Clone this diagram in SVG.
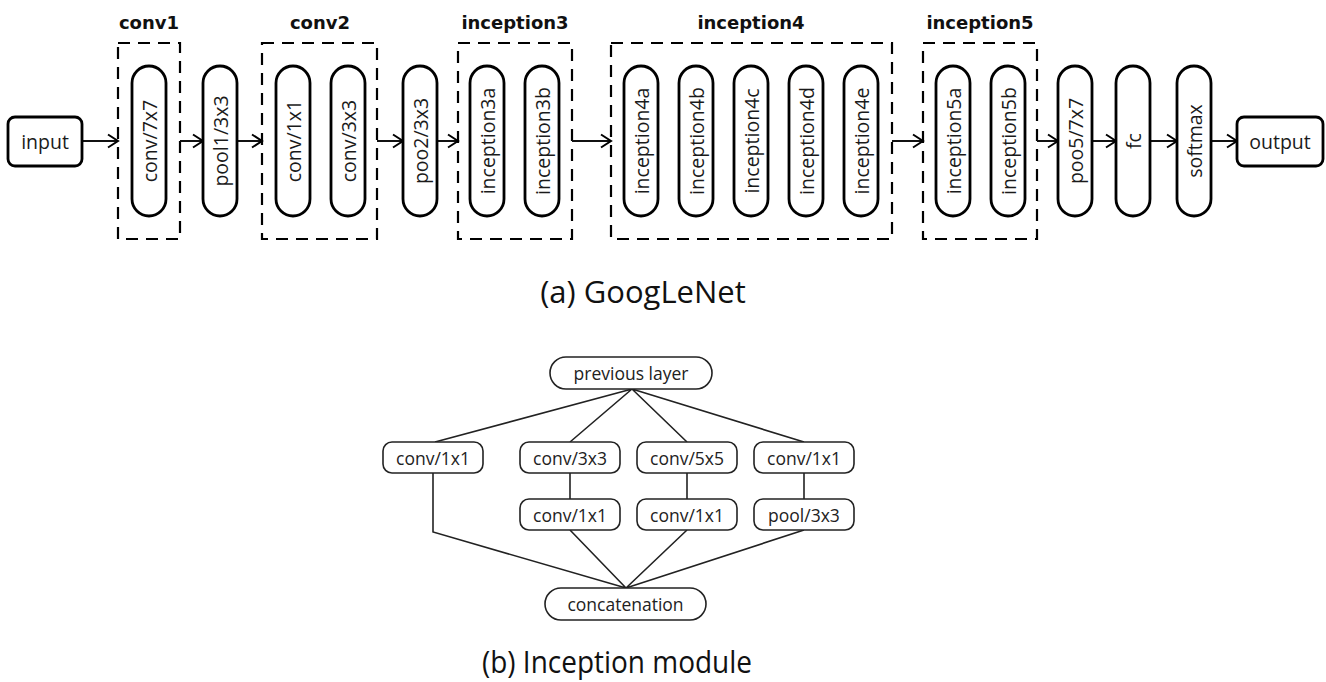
<svg xmlns="http://www.w3.org/2000/svg" width="1326" height="682" viewBox="0 0 1326 682">
<defs>
<marker id="arr" markerUnits="userSpaceOnUse" markerWidth="14" markerHeight="16" refX="11" refY="7" orient="auto" viewBox="0 0 14 14">
<path d="M1,0.5 L11,7 L1,13.5" fill="none" stroke="#000" stroke-width="2"/>
</marker>
</defs>
<style>
.bg{fill:#fff}
.pill{fill:#fff;stroke:#000;stroke-width:2.8}
.dash{fill:none;stroke:#000;stroke-width:2.2;stroke-dasharray:12 8}
.t{font-family:"Open Sans","Liberation Sans",sans-serif;font-size:19.5px;fill:#1a1a1a;text-anchor:middle;dominant-baseline:central}
.h{font-family:"DejaVu Sans","Liberation Sans",sans-serif;font-weight:bold;font-size:18px;fill:#111;text-anchor:middle}
.cap{font-family:"Open Sans","Liberation Sans",sans-serif;font-size:31px;fill:#111;text-anchor:middle}
.bx{fill:#fff;stroke:#222;stroke-width:1.6}
.bt{font-family:"Open Sans","Liberation Sans",sans-serif;font-size:17.5px;fill:#222;text-anchor:middle;dominant-baseline:central}
.ln{stroke:#111;stroke-width:2;fill:none}
.ln2{stroke:#222;stroke-width:1.6;fill:none}
</style>
<rect class="bg" x="0" y="0" width="1326" height="682"/>

<g id="groups">
<g id="conv1-group"><rect class="dash" x="118" y="43" width="62" height="196"/><text class="h" x="149" y="29">conv1</text></g>
<g id="conv2-group"><rect class="dash" x="262" y="43" width="115" height="196"/><text class="h" x="320" y="29">conv2</text></g>
<g id="inception3-group"><rect class="dash" x="458" y="43" width="114" height="196"/><text class="h" x="515" y="29">inception3</text></g>
<g id="inception4-group"><rect class="dash" x="611" y="43" width="281" height="196"/><text class="h" x="751" y="29">inception4</text></g>
<g id="inception5-group"><rect class="dash" x="923" y="43" width="114" height="196"/><text class="h" x="980" y="29">inception5</text></g>
</g>

<g id="connectors">
<line class="ln" x1="82" y1="141" x2="118" y2="141" marker-end="url(#arr)"/>
<line class="ln" x1="180" y1="141" x2="203" y2="141" marker-end="url(#arr)"/>
<line class="ln" x1="237" y1="141" x2="262" y2="141" marker-end="url(#arr)"/>
<line class="ln" x1="377" y1="141" x2="403" y2="141" marker-end="url(#arr)"/>
<line class="ln" x1="437" y1="141" x2="458" y2="141" marker-end="url(#arr)"/>
<line class="ln" x1="572" y1="141" x2="611" y2="141" marker-end="url(#arr)"/>
<line class="ln" x1="892" y1="141" x2="923" y2="141" marker-end="url(#arr)"/>
<line class="ln" x1="1037" y1="141" x2="1058" y2="141" marker-end="url(#arr)"/>
<line class="ln" x1="1092" y1="141" x2="1116" y2="141" marker-end="url(#arr)"/>
<line class="ln" x1="1149" y1="141" x2="1177" y2="141" marker-end="url(#arr)"/>
<line class="ln" x1="1210" y1="141" x2="1237" y2="141" marker-end="url(#arr)"/>
<path class="ln2" d="M632,389 L435,442 M632,389 L570,442 M632,389 L687,442 M632,389 L804,442"/>
<path class="ln2" d="M570,473 L570,499 M687,473 L687,499 M804,473 L804,499"/>
<path class="ln2" d="M433,473 L433,532 L626,588 M570,530 L626,588 M687,530 L626,588 M804,530 L626,588"/>
</g>

<g id="input"><rect class="pill" x="8" y="117" width="74" height="49" rx="7"/><text class="t" x="45" y="141">input</text></g>
<g id="conv7x7"><rect class="pill" x="132" y="66" width="34" height="150" rx="17"/><text class="t" transform="translate(149,141) rotate(-90)">conv/7x7</text></g>
<g id="pool1"><rect class="pill" x="203" y="66" width="34" height="150" rx="17"/><text class="t" transform="translate(220,141) rotate(-90)">pool1/3x3</text></g>
<g id="conv1x1"><rect class="pill" x="276" y="66" width="34" height="150" rx="17"/><text class="t" transform="translate(293,141) rotate(-90)">conv/1x1</text></g>
<g id="conv3x3"><rect class="pill" x="331" y="66" width="34" height="150" rx="17"/><text class="t" transform="translate(348,141) rotate(-90)">conv/3x3</text></g>
<g id="pool2"><rect class="pill" x="403" y="66" width="34" height="150" rx="17"/><text class="t" transform="translate(420,141) rotate(-90)">poo2/3x3</text></g>
<g id="inception3a"><rect class="pill" x="470" y="66" width="34" height="150" rx="17"/><text class="t" transform="translate(487,141) rotate(-90)">inception3a</text></g>
<g id="inception3b"><rect class="pill" x="525" y="66" width="34" height="150" rx="17"/><text class="t" transform="translate(542,141) rotate(-90)">inception3b</text></g>
<g id="inception4a"><rect class="pill" x="624" y="66" width="34" height="150" rx="17"/><text class="t" transform="translate(641,141) rotate(-90)">inception4a</text></g>
<g id="inception4b"><rect class="pill" x="679" y="66" width="34" height="150" rx="17"/><text class="t" transform="translate(696,141) rotate(-90)">inception4b</text></g>
<g id="inception4c"><rect class="pill" x="734" y="66" width="34" height="150" rx="17"/><text class="t" transform="translate(751,141) rotate(-90)">inception4c</text></g>
<g id="inception4d"><rect class="pill" x="789" y="66" width="34" height="150" rx="17"/><text class="t" transform="translate(806,141) rotate(-90)">inception4d</text></g>
<g id="inception4e"><rect class="pill" x="844" y="66" width="34" height="150" rx="17"/><text class="t" transform="translate(861,141) rotate(-90)">inception4e</text></g>
<g id="inception5a"><rect class="pill" x="936" y="66" width="34" height="150" rx="17"/><text class="t" transform="translate(953,141) rotate(-90)">inception5a</text></g>
<g id="inception5b"><rect class="pill" x="991" y="66" width="34" height="150" rx="17"/><text class="t" transform="translate(1008,141) rotate(-90)">inception5b</text></g>
<g id="pool5"><rect class="pill" x="1058" y="66" width="34" height="150" rx="17"/><text class="t" transform="translate(1075,141) rotate(-90)">poo5/7x7</text></g>
<g id="fc"><rect class="pill" x="1116" y="66" width="34" height="150" rx="17"/><text class="t" transform="translate(1133,141) rotate(-90)">fc</text></g>
<g id="softmax"><rect class="pill" x="1177" y="66" width="34" height="150" rx="17"/><text class="t" transform="translate(1194,141) rotate(-90)">softmax</text></g>
<g id="output"><rect class="pill" x="1237" y="117" width="86" height="49" rx="7"/><text class="t" x="1280" y="141">output</text></g>

<text class="cap" x="643" y="303">(a) GoogLeNet</text>

<g id="previous-layer"><rect class="bx" x="550" y="357" width="162" height="32" rx="16"/><text class="bt" x="631" y="373">previous layer</text></g>
<g id="b-conv1x1-a"><rect class="bx" x="383" y="442" width="100" height="31" rx="9"/><text class="bt" x="433" y="457.5">conv/1x1</text></g>
<g id="b-conv3x3"><rect class="bx" x="520" y="442" width="100" height="31" rx="9"/><text class="bt" x="570" y="457.5">conv/3x3</text></g>
<g id="b-conv5x5"><rect class="bx" x="637" y="442" width="100" height="31" rx="9"/><text class="bt" x="687" y="457.5">conv/5x5</text></g>
<g id="b-conv1x1-d"><rect class="bx" x="754" y="442" width="100" height="31" rx="9"/><text class="bt" x="804" y="457.5">conv/1x1</text></g>
<g id="b-conv1x1-b"><rect class="bx" x="520" y="499" width="100" height="31" rx="9"/><text class="bt" x="570" y="514.5">conv/1x1</text></g>
<g id="b-conv1x1-c"><rect class="bx" x="637" y="499" width="100" height="31" rx="9"/><text class="bt" x="687" y="514.5">conv/1x1</text></g>
<g id="b-pool3x3"><rect class="bx" x="754" y="499" width="100" height="31" rx="9"/><text class="bt" x="804" y="514.5">pool/3x3</text></g>
<g id="concatenation"><rect class="bx" x="545" y="588" width="161" height="32" rx="16"/><text class="bt" x="625.5" y="604">concatenation</text></g>

<text class="cap" x="617" y="673" textLength="270" lengthAdjust="spacingAndGlyphs">(b) Inception module</text>
</svg>
